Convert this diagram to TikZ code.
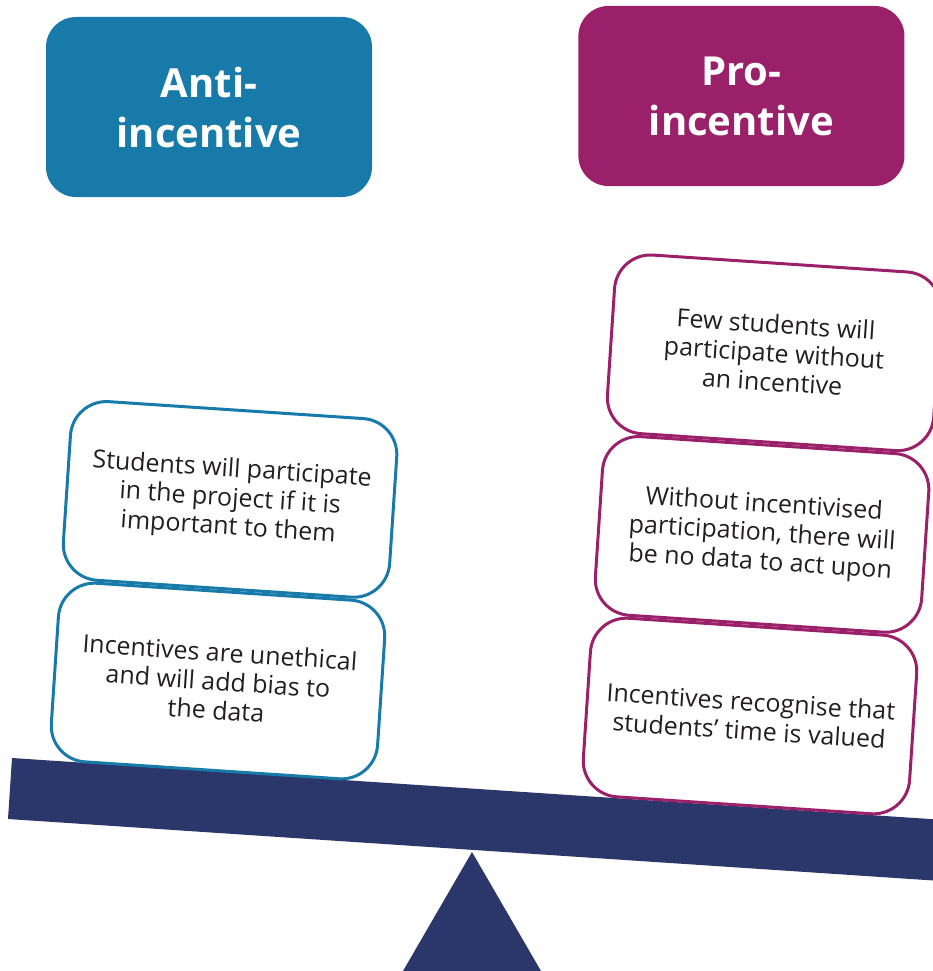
\documentclass[tikz,border=0pt]{standalone}
\usepackage{fontspec}
\setmainfont{Open Sans}
\usepackage{tikz}
\definecolor{antiBlue}{RGB}{23,122,168}
\definecolor{proMagenta}{RGB}{155,32,106}
\definecolor{beamNavy}{RGB}{43,55,107}
\definecolor{textGrey}{RGB}{35,31,32}
\usetikzlibrary{shapes, positioning}
\tikzstyle{headBox} = [rounded corners=30pt, minimum width=326pt, minimum height=180pt, text=white, align=center, font=\bfseries\fontsize{40}{50}\selectfont]
\tikzstyle{argBox} = [draw, fill=white, line width=3pt, rounded corners=36pt, minimum width=327pt, minimum height=179pt, rotate=-3.8, align=center, text=textGrey, font=\fontsize{25}{29}\selectfont]

\begin{document}
\begin{tikzpicture}[x=1pt, y=-1pt, node distance=0pt]
        \clip (0,0) rectangle (933,971);
        % Headers
        \node [headBox, fill=antiBlue] (anti) at (209,107) {Anti-\\incentive};
        \node [headBox, fill=proMagenta, right=206pt of anti, yshift=11pt] (pro) {Pro-\\incentive};

        % Seesaw
        \fill [beamNavy] (12,758) -- (945,820) -- (941,881) -- (8,819) -- cycle;
        \fill [beamNavy] (472,852) -- (403,971) -- (541,971) -- cycle;

        % Anti arguments
        \node [argBox, draw=antiBlue] (anti2) at (218,681) {Incentives are unethical\\and will add bias to\\the data};
        \node [argBox, draw=antiBlue, above=of anti2] (anti1) {Students will participate\\in the project if it is\\important to them};

        % Pro arguments
        \node [argBox, draw=proMagenta] (pro3) at (750,716) {Incentives recognise that\\students’ time is valued};
        \node [argBox, draw=proMagenta, above=of pro3] (pro2) {Without incentivised\\participation, there will\\be no data to act upon};
        \node [argBox, draw=proMagenta, above=of pro2] (pro1) {Few students will\\participate without\\an incentive};
    \end{tikzpicture}
\end{document}
